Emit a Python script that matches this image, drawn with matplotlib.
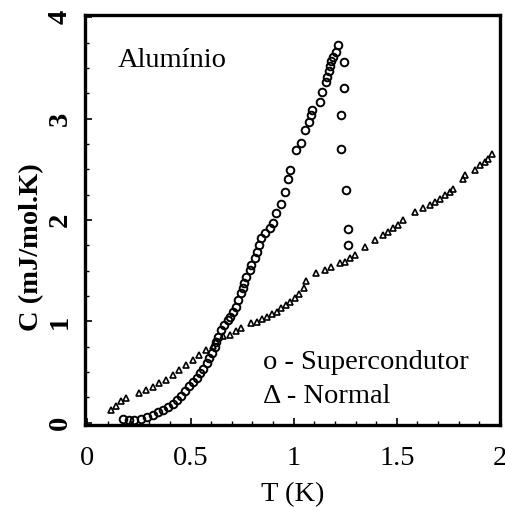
import matplotlib
matplotlib.use('Agg')
import matplotlib.pyplot as plt
from matplotlib.ticker import MultipleLocator

plt.rcParams['font.family'] = ['Liberation Serif', 'DejaVu Serif']

# estado supercondutor (círculos)
t_super = [0.170, 0.199, 0.227, 0.259, 0.287, 0.316, 0.340, 0.364, 0.389, 0.413,
           0.432, 0.454, 0.475, 0.494, 0.514, 0.530, 0.548, 0.562, 0.578, 0.591,
           0.604, 0.616, 0.625, 0.634, 0.648, 0.664, 0.680, 0.689, 0.705, 0.718,
           0.729, 0.745, 0.753, 0.761, 0.770, 0.786, 0.794, 0.810, 0.821, 0.834,
           0.843, 0.863, 0.883, 0.899, 0.915, 0.940, 0.956, 0.972, 0.980, 1.009,
           1.037, 1.053, 1.074, 1.085, 1.090, 1.126, 1.139, 1.155, 1.161, 1.171,
           1.178, 1.183, 1.190, 1.207, 1.215,
           1.243, 1.243, 1.231, 1.231, 1.252, 1.263, 1.263]
c_super = [0.039, 0.032, 0.032, 0.039, 0.055, 0.082, 0.104, 0.131, 0.157, 0.190,
           0.229, 0.268, 0.311, 0.360, 0.399, 0.442, 0.492, 0.531, 0.590, 0.639,
           0.688, 0.745, 0.800, 0.850, 0.917, 0.967, 1.016, 1.048, 1.097, 1.147,
           1.212, 1.278, 1.327, 1.377, 1.442, 1.508, 1.557, 1.622, 1.688, 1.753,
           1.819, 1.868, 1.918, 1.975, 2.065, 2.163, 2.277, 2.409, 2.491, 2.687,
           2.759, 2.884, 2.966, 3.031, 3.087, 3.162, 3.261, 3.359, 3.408, 3.474,
           3.523, 3.572, 3.611, 3.654, 3.729,
           3.556, 3.301, 3.038, 2.704, 2.301, 1.908, 1.753]

# estado normal (triângulos)
t_normal = [0.113, 0.138, 0.162, 0.186, 0.251, 0.283, 0.316, 0.348, 0.381, 0.413,
            0.445, 0.478, 0.510, 0.543, 0.575, 0.607, 0.624, 0.656, 0.689, 0.718,
            0.745, 0.794, 0.821, 0.847, 0.870, 0.896, 0.918, 0.940, 0.961, 0.983,
            1.004, 1.025, 1.048, 1.062, 1.110, 1.150, 1.183, 1.223, 1.247, 1.272,
            1.296, 1.345, 1.393, 1.434, 1.458, 1.482, 1.506, 1.531, 1.587, 1.628,
            1.660, 1.685, 1.709, 1.733, 1.757, 1.774, 1.822, 1.830, 1.879, 1.903,
            1.927, 1.944, 1.960]
c_normal = [0.131, 0.170, 0.213, 0.246, 0.295, 0.321, 0.354, 0.393, 0.426, 0.475,
            0.525, 0.574, 0.623, 0.672, 0.715, 0.754, 0.803, 0.852, 0.868, 0.901,
            0.934, 0.983, 0.999, 1.022, 1.048, 1.072, 1.097, 1.131, 1.163, 1.196,
            1.229, 1.271, 1.327, 1.400, 1.475, 1.508, 1.540, 1.573, 1.589, 1.622,
            1.655, 1.737, 1.802, 1.852, 1.884, 1.917, 1.950, 1.999, 2.081, 2.114,
            2.146, 2.179, 2.212, 2.245, 2.277, 2.310, 2.409, 2.442, 2.491, 2.540,
            2.573, 2.606, 2.655]

fig = plt.figure(figsize=(5.06, 5.07), dpi=100)
ax = fig.add_axes([0.168, 0.162, 0.820, 0.808])

ax.plot(t_super, c_super, linestyle='none', marker='o', markersize=5.5,
        markerfacecolor='none', markeredgecolor='black', markeredgewidth=1.4)
ax.plot(t_normal, c_normal, linestyle='none', marker='^', markersize=5,
        markerfacecolor='none', markeredgecolor='black', markeredgewidth=1.2)

ax.set_xlim(-0.012, 2.0)
ax.set_ylim(-0.02, 4.02)
ax.set_xticks([0, 0.5, 1, 1.5, 2])
ax.set_xticklabels(['0', '0.5', '1', '1.5', '2'])
ax.set_yticks([0, 1, 2, 3, 4])
ax.xaxis.set_minor_locator(MultipleLocator(0.1))
ax.yaxis.set_minor_locator(MultipleLocator(0.25))

for s in ax.spines.values():
    s.set_linewidth(2.4)

ax.tick_params(which='major', direction='in', length=5, width=1.2, labelsize=20.5)
ax.tick_params(which='minor', direction='in', length=3, width=1)
ax.tick_params(axis='x', pad=15)
ax.tick_params(axis='y', pad=9, labelrotation=90)
for lab in ax.get_yticklabels():
    lab.set_fontweight('bold')
    lab.set_verticalalignment('center')

ax.set_xlabel('T (K)', fontsize=20.5, labelpad=8)
ax.set_ylabel('C (mJ/mol.K)', fontsize=20.5, fontweight='bold')
ax.yaxis.set_label_coords(-0.098, 0.434)

ax.text(0.08, 0.873, 'Alumínio', transform=ax.transAxes, fontsize=20.5)
ax.text(0.43, 0.137, 'o - Supercondutor', transform=ax.transAxes, fontsize=20.5)
ax.text(0.43, 0.054, 'Δ - Normal', transform=ax.transAxes, fontsize=20.5)

fig.savefig('out.png', dpi=100)
